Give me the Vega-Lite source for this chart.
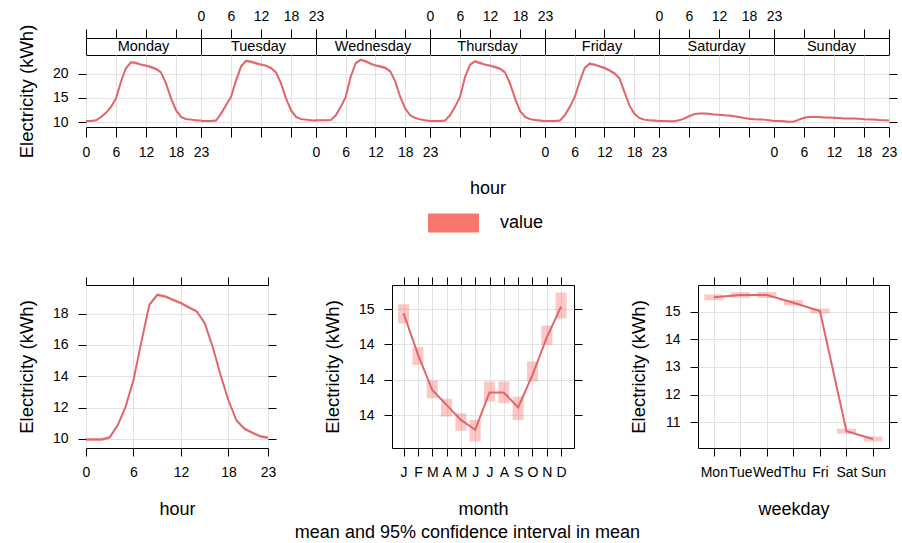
{
"$schema": "https://vega.github.io/schema/vega-lite/v6.json",
"background": "white",
"padding": {"left": 16, "top": 8, "right": 5, "bottom": 0},
"datasets": {
"week": [
{"day":"Monday","hour":0,"value":10.2,"lo":10.0,"hi":10.4},
{"day":"Monday","hour":1,"value":10.2,"lo":10.0,"hi":10.4},
{"day":"Monday","hour":2,"value":10.35,"lo":10.15,"hi":10.55},
{"day":"Monday","hour":3,"value":11.05,"lo":10.85,"hi":11.25},
{"day":"Monday","hour":4,"value":11.9,"lo":11.7,"hi":12.1},
{"day":"Monday","hour":5,"value":13.15,"lo":12.85,"hi":13.45},
{"day":"Monday","hour":6,"value":14.9,"lo":14.6,"hi":15.2},
{"day":"Monday","hour":7,"value":18.4,"lo":18.1,"hi":18.7},
{"day":"Monday","hour":8,"value":21.2,"lo":20.9,"hi":21.5},
{"day":"Monday","hour":9,"value":22.4,"lo":22.1,"hi":22.7},
{"day":"Monday","hour":10,"value":22.25,"lo":21.95,"hi":22.55},
{"day":"Monday","hour":11,"value":21.9,"lo":21.6,"hi":22.2},
{"day":"Monday","hour":12,"value":21.7,"lo":21.4,"hi":22.0},
{"day":"Monday","hour":13,"value":21.4,"lo":21.1,"hi":21.7},
{"day":"Monday","hour":14,"value":21.0,"lo":20.7,"hi":21.3},
{"day":"Monday","hour":15,"value":20.3,"lo":20.0,"hi":20.6},
{"day":"Monday","hour":16,"value":18.0,"lo":17.7,"hi":18.3},
{"day":"Monday","hour":17,"value":14.9,"lo":14.6,"hi":15.2},
{"day":"Monday","hour":18,"value":12.45,"lo":12.25,"hi":12.65},
{"day":"Monday","hour":19,"value":11.05,"lo":10.85,"hi":11.25},
{"day":"Monday","hour":20,"value":10.6,"lo":10.4,"hi":10.8},
{"day":"Monday","hour":21,"value":10.5,"lo":10.3,"hi":10.7},
{"day":"Monday","hour":22,"value":10.35,"lo":10.15,"hi":10.55},
{"day":"Monday","hour":23,"value":10.3,"lo":10.1,"hi":10.5},
{"day":"Tuesday","hour":0,"value":10.2,"lo":10.0,"hi":10.4},
{"day":"Tuesday","hour":1,"value":10.2,"lo":10.0,"hi":10.4},
{"day":"Tuesday","hour":2,"value":10.2,"lo":10.0,"hi":10.4},
{"day":"Tuesday","hour":3,"value":10.3,"lo":10.1,"hi":10.5},
{"day":"Tuesday","hour":4,"value":11.75,"lo":11.55,"hi":11.95},
{"day":"Tuesday","hour":5,"value":13.5,"lo":13.2,"hi":13.8},
{"day":"Tuesday","hour":6,"value":15.2,"lo":14.9,"hi":15.5},
{"day":"Tuesday","hour":7,"value":18.6,"lo":18.3,"hi":18.9},
{"day":"Tuesday","hour":8,"value":21.5,"lo":21.2,"hi":21.8},
{"day":"Tuesday","hour":9,"value":22.7,"lo":22.4,"hi":23.0},
{"day":"Tuesday","hour":10,"value":22.5,"lo":22.2,"hi":22.8},
{"day":"Tuesday","hour":11,"value":22.2,"lo":21.9,"hi":22.5},
{"day":"Tuesday","hour":12,"value":21.9,"lo":21.6,"hi":22.2},
{"day":"Tuesday","hour":13,"value":21.7,"lo":21.4,"hi":22.0},
{"day":"Tuesday","hour":14,"value":21.2,"lo":20.9,"hi":21.5},
{"day":"Tuesday","hour":15,"value":20.3,"lo":20.0,"hi":20.6},
{"day":"Tuesday","hour":16,"value":18.0,"lo":17.7,"hi":18.3},
{"day":"Tuesday","hour":17,"value":14.9,"lo":14.6,"hi":15.2},
{"day":"Tuesday","hour":18,"value":12.45,"lo":12.25,"hi":12.65},
{"day":"Tuesday","hour":19,"value":11.05,"lo":10.85,"hi":11.25},
{"day":"Tuesday","hour":20,"value":10.6,"lo":10.4,"hi":10.8},
{"day":"Tuesday","hour":21,"value":10.5,"lo":10.3,"hi":10.7},
{"day":"Tuesday","hour":22,"value":10.35,"lo":10.15,"hi":10.55},
{"day":"Tuesday","hour":23,"value":10.3,"lo":10.1,"hi":10.5},
{"day":"Wednesday","hour":0,"value":10.35,"lo":10.15,"hi":10.55},
{"day":"Wednesday","hour":1,"value":10.35,"lo":10.15,"hi":10.55},
{"day":"Wednesday","hour":2,"value":10.35,"lo":10.15,"hi":10.55},
{"day":"Wednesday","hour":3,"value":10.4,"lo":10.2,"hi":10.6},
{"day":"Wednesday","hour":4,"value":11.4,"lo":11.2,"hi":11.6},
{"day":"Wednesday","hour":5,"value":13.15,"lo":12.85,"hi":13.45},
{"day":"Wednesday","hour":6,"value":15.2,"lo":14.9,"hi":15.5},
{"day":"Wednesday","hour":7,"value":19.4,"lo":19.1,"hi":19.7},
{"day":"Wednesday","hour":8,"value":22.2,"lo":21.9,"hi":22.5},
{"day":"Wednesday","hour":9,"value":22.9,"lo":22.6,"hi":23.2},
{"day":"Wednesday","hour":10,"value":22.6,"lo":22.3,"hi":22.9},
{"day":"Wednesday","hour":11,"value":22.1,"lo":21.8,"hi":22.4},
{"day":"Wednesday","hour":12,"value":21.75,"lo":21.45,"hi":22.05},
{"day":"Wednesday","hour":13,"value":21.5,"lo":21.2,"hi":21.8},
{"day":"Wednesday","hour":14,"value":21.2,"lo":20.9,"hi":21.5},
{"day":"Wednesday","hour":15,"value":20.5,"lo":20.2,"hi":20.8},
{"day":"Wednesday","hour":16,"value":18.4,"lo":18.1,"hi":18.7},
{"day":"Wednesday","hour":17,"value":15.2,"lo":14.9,"hi":15.5},
{"day":"Wednesday","hour":18,"value":12.8,"lo":12.6,"hi":13.0},
{"day":"Wednesday","hour":19,"value":11.4,"lo":11.2,"hi":11.6},
{"day":"Wednesday","hour":20,"value":10.85,"lo":10.65,"hi":11.05},
{"day":"Wednesday","hour":21,"value":10.55,"lo":10.35,"hi":10.75},
{"day":"Wednesday","hour":22,"value":10.35,"lo":10.15,"hi":10.55},
{"day":"Wednesday","hour":23,"value":10.2,"lo":10.0,"hi":10.4},
{"day":"Thursday","hour":0,"value":10.2,"lo":10.0,"hi":10.4},
{"day":"Thursday","hour":1,"value":10.2,"lo":10.0,"hi":10.4},
{"day":"Thursday","hour":2,"value":10.2,"lo":10.0,"hi":10.4},
{"day":"Thursday","hour":3,"value":10.3,"lo":10.1,"hi":10.5},
{"day":"Thursday","hour":4,"value":11.4,"lo":11.2,"hi":11.6},
{"day":"Thursday","hour":5,"value":13.15,"lo":12.85,"hi":13.45},
{"day":"Thursday","hour":6,"value":15.2,"lo":14.9,"hi":15.5},
{"day":"Thursday","hour":7,"value":19.3,"lo":19.0,"hi":19.6},
{"day":"Thursday","hour":8,"value":21.9,"lo":21.6,"hi":22.2},
{"day":"Thursday","hour":9,"value":22.6,"lo":22.3,"hi":22.9},
{"day":"Thursday","hour":10,"value":22.25,"lo":21.95,"hi":22.55},
{"day":"Thursday","hour":11,"value":21.9,"lo":21.6,"hi":22.2},
{"day":"Thursday","hour":12,"value":21.7,"lo":21.4,"hi":22.0},
{"day":"Thursday","hour":13,"value":21.4,"lo":21.1,"hi":21.7},
{"day":"Thursday","hour":14,"value":21.05,"lo":20.75,"hi":21.35},
{"day":"Thursday","hour":15,"value":20.3,"lo":20.0,"hi":20.6},
{"day":"Thursday","hour":16,"value":18.0,"lo":17.7,"hi":18.3},
{"day":"Thursday","hour":17,"value":14.9,"lo":14.6,"hi":15.2},
{"day":"Thursday","hour":18,"value":12.3,"lo":12.1,"hi":12.5},
{"day":"Thursday","hour":19,"value":11.05,"lo":10.85,"hi":11.25},
{"day":"Thursday","hour":20,"value":10.6,"lo":10.4,"hi":10.8},
{"day":"Thursday","hour":21,"value":10.4,"lo":10.2,"hi":10.6},
{"day":"Thursday","hour":22,"value":10.3,"lo":10.1,"hi":10.5},
{"day":"Thursday","hour":23,"value":10.15,"lo":9.95,"hi":10.35},
{"day":"Friday","hour":0,"value":10.2,"lo":10.0,"hi":10.4},
{"day":"Friday","hour":1,"value":10.2,"lo":10.0,"hi":10.4},
{"day":"Friday","hour":2,"value":10.2,"lo":10.0,"hi":10.4},
{"day":"Friday","hour":3,"value":10.3,"lo":10.1,"hi":10.5},
{"day":"Friday","hour":4,"value":11.4,"lo":11.2,"hi":11.6},
{"day":"Friday","hour":5,"value":13.15,"lo":12.85,"hi":13.45},
{"day":"Friday","hour":6,"value":15.2,"lo":14.9,"hi":15.5},
{"day":"Friday","hour":7,"value":18.4,"lo":18.1,"hi":18.7},
{"day":"Friday","hour":8,"value":21.2,"lo":20.9,"hi":21.5},
{"day":"Friday","hour":9,"value":22.1,"lo":21.8,"hi":22.4},
{"day":"Friday","hour":10,"value":21.9,"lo":21.6,"hi":22.2},
{"day":"Friday","hour":11,"value":21.55,"lo":21.25,"hi":21.85},
{"day":"Friday","hour":12,"value":21.2,"lo":20.9,"hi":21.5},
{"day":"Friday","hour":13,"value":20.7,"lo":20.4,"hi":21.0},
{"day":"Friday","hour":14,"value":20.1,"lo":19.8,"hi":20.4},
{"day":"Friday","hour":15,"value":19.1,"lo":18.8,"hi":19.4},
{"day":"Friday","hour":16,"value":16.3,"lo":16.0,"hi":16.6},
{"day":"Friday","hour":17,"value":13.5,"lo":13.2,"hi":13.8},
{"day":"Friday","hour":18,"value":11.75,"lo":11.55,"hi":11.95},
{"day":"Friday","hour":19,"value":10.85,"lo":10.65,"hi":11.05},
{"day":"Friday","hour":20,"value":10.5,"lo":10.3,"hi":10.7},
{"day":"Friday","hour":21,"value":10.35,"lo":10.15,"hi":10.55},
{"day":"Friday","hour":22,"value":10.3,"lo":10.1,"hi":10.5},
{"day":"Friday","hour":23,"value":10.2,"lo":10.0,"hi":10.4},
{"day":"Saturday","hour":0,"value":10.2,"lo":10.05,"hi":10.35},
{"day":"Saturday","hour":1,"value":10.2,"lo":10.05,"hi":10.35},
{"day":"Saturday","hour":2,"value":10.15,"lo":10.0,"hi":10.3},
{"day":"Saturday","hour":3,"value":10.15,"lo":10.0,"hi":10.3},
{"day":"Saturday","hour":4,"value":10.35,"lo":10.2,"hi":10.5},
{"day":"Saturday","hour":5,"value":10.7,"lo":10.55,"hi":10.85},
{"day":"Saturday","hour":6,"value":11.2,"lo":11.05,"hi":11.35},
{"day":"Saturday","hour":7,"value":11.6,"lo":11.45,"hi":11.75},
{"day":"Saturday","hour":8,"value":11.75,"lo":11.6,"hi":11.9},
{"day":"Saturday","hour":9,"value":11.75,"lo":11.6,"hi":11.9},
{"day":"Saturday","hour":10,"value":11.7,"lo":11.55,"hi":11.85},
{"day":"Saturday","hour":11,"value":11.55,"lo":11.4,"hi":11.7},
{"day":"Saturday","hour":12,"value":11.5,"lo":11.35,"hi":11.65},
{"day":"Saturday","hour":13,"value":11.4,"lo":11.25,"hi":11.55},
{"day":"Saturday","hour":14,"value":11.35,"lo":11.2,"hi":11.5},
{"day":"Saturday","hour":15,"value":11.2,"lo":11.05,"hi":11.35},
{"day":"Saturday","hour":16,"value":11.05,"lo":10.9,"hi":11.2},
{"day":"Saturday","hour":17,"value":10.85,"lo":10.7,"hi":11.0},
{"day":"Saturday","hour":18,"value":10.7,"lo":10.55,"hi":10.85},
{"day":"Saturday","hour":19,"value":10.6,"lo":10.45,"hi":10.75},
{"day":"Saturday","hour":20,"value":10.55,"lo":10.4,"hi":10.7},
{"day":"Saturday","hour":21,"value":10.5,"lo":10.35,"hi":10.65},
{"day":"Saturday","hour":22,"value":10.35,"lo":10.2,"hi":10.5},
{"day":"Saturday","hour":23,"value":10.2,"lo":10.05,"hi":10.35},
{"day":"Sunday","hour":0,"value":10.2,"lo":10.05,"hi":10.35},
{"day":"Sunday","hour":1,"value":10.2,"lo":10.05,"hi":10.35},
{"day":"Sunday","hour":2,"value":10.15,"lo":10.0,"hi":10.3},
{"day":"Sunday","hour":3,"value":10.05,"lo":9.9,"hi":10.2},
{"day":"Sunday","hour":4,"value":10.1,"lo":9.95,"hi":10.25},
{"day":"Sunday","hour":5,"value":10.5,"lo":10.35,"hi":10.65},
{"day":"Sunday","hour":6,"value":10.9,"lo":10.75,"hi":11.05},
{"day":"Sunday","hour":7,"value":11.05,"lo":10.9,"hi":11.2},
{"day":"Sunday","hour":8,"value":11.05,"lo":10.9,"hi":11.2},
{"day":"Sunday","hour":9,"value":11.05,"lo":10.9,"hi":11.2},
{"day":"Sunday","hour":10,"value":10.95,"lo":10.8,"hi":11.1},
{"day":"Sunday","hour":11,"value":10.95,"lo":10.8,"hi":11.1},
{"day":"Sunday","hour":12,"value":10.9,"lo":10.75,"hi":11.05},
{"day":"Sunday","hour":13,"value":10.85,"lo":10.7,"hi":11.0},
{"day":"Sunday","hour":14,"value":10.75,"lo":10.6,"hi":10.9},
{"day":"Sunday","hour":15,"value":10.75,"lo":10.6,"hi":10.9},
{"day":"Sunday","hour":16,"value":10.75,"lo":10.6,"hi":10.9},
{"day":"Sunday","hour":17,"value":10.7,"lo":10.55,"hi":10.85},
{"day":"Sunday","hour":18,"value":10.6,"lo":10.45,"hi":10.75},
{"day":"Sunday","hour":19,"value":10.55,"lo":10.4,"hi":10.7},
{"day":"Sunday","hour":20,"value":10.5,"lo":10.35,"hi":10.65},
{"day":"Sunday","hour":21,"value":10.4,"lo":10.25,"hi":10.55},
{"day":"Sunday","hour":22,"value":10.35,"lo":10.2,"hi":10.5},
{"day":"Sunday","hour":23,"value":10.3,"lo":10.15,"hi":10.45}
],
"hourly": [
{"hour":0,"value":9.97,"lo":9.87,"hi":10.07},
{"hour":1,"value":9.96,"lo":9.86,"hi":10.06},
{"hour":2,"value":9.97,"lo":9.87,"hi":10.07},
{"hour":3,"value":10.1,"lo":10.0,"hi":10.2},
{"hour":4,"value":10.87,"lo":10.77,"hi":10.97},
{"hour":5,"value":12.05,"lo":11.95,"hi":12.15},
{"hour":6,"value":13.76,"lo":13.66,"hi":13.86},
{"hour":7,"value":16.2,"lo":16.1,"hi":16.3},
{"hour":8,"value":18.56,"lo":18.46,"hi":18.66},
{"hour":9,"value":19.2,"lo":19.1,"hi":19.3},
{"hour":10,"value":19.1,"lo":19.0,"hi":19.2},
{"hour":11,"value":18.88,"lo":18.78,"hi":18.98},
{"hour":12,"value":18.67,"lo":18.57,"hi":18.77},
{"hour":13,"value":18.4,"lo":18.3,"hi":18.5},
{"hour":14,"value":18.14,"lo":18.04,"hi":18.24},
{"hour":15,"value":17.39,"lo":17.29,"hi":17.49},
{"hour":16,"value":15.9,"lo":15.8,"hi":16.0},
{"hour":17,"value":14.08,"lo":13.98,"hi":14.18},
{"hour":18,"value":12.47,"lo":12.37,"hi":12.57},
{"hour":19,"value":11.19,"lo":11.09,"hi":11.29},
{"hour":20,"value":10.66,"lo":10.56,"hi":10.76},
{"hour":21,"value":10.4,"lo":10.3,"hi":10.5},
{"hour":22,"value":10.17,"lo":10.07,"hi":10.27},
{"hour":23,"value":10.08,"lo":9.98,"hi":10.18}
],
"monthly": [
{"month":1,"value":14.576,"lo":14.519,"hi":14.627},
{"month":2,"value":14.344,"lo":14.284,"hi":14.384},
{"month":3,"value":14.142,"lo":14.096,"hi":14.196},
{"month":4,"value":14.058,"lo":13.992,"hi":14.092},
{"month":5,"value":13.973,"lo":13.911,"hi":14.011},
{"month":6,"value":13.917,"lo":13.851,"hi":13.973},
{"month":7,"value":14.128,"lo":14.077,"hi":14.19},
{"month":8,"value":14.128,"lo":14.067,"hi":14.19},
{"month":9,"value":14.043,"lo":13.973,"hi":14.105},
{"month":10,"value":14.227,"lo":14.19,"hi":14.303},
{"month":11,"value":14.44,"lo":14.397,"hi":14.506},
{"month":12,"value":14.614,"lo":14.547,"hi":14.694}
],
"weekday": [
{"wd":1,"weekday":"Mon","value":15.515,"lo":15.41,"hi":15.62},
{"wd":2,"weekday":"Tue","value":15.6,"lo":15.5,"hi":15.7},
{"wd":3,"weekday":"Wed","value":15.6,"lo":15.49,"hi":15.71},
{"wd":4,"weekday":"Thu","value":15.32,"lo":15.22,"hi":15.42},
{"wd":5,"weekday":"Fri","value":15.02,"lo":14.93,"hi":15.11},
{"wd":6,"weekday":"Sat","value":10.68,"lo":10.59,"hi":10.77},
{"wd":7,"weekday":"Sun","value":10.4,"lo":10.31,"hi":10.49}
]
},
"title": {"text": "mean and 95% confidence interval in mean", "orient": "bottom", "anchor": "middle", "font": "Liberation Sans", "fontSize": 18, "fontWeight": "normal", "color": "#000", "offset": 5, "dx": 10},
"spacing": 78,
"bounds": "full",
"vconcat": [
{
"columns": 7,
"spacing": 0,
"bounds": "flush",
"align": "each",
"concat": [
 {"width": 115, "height": 17, "data": {"values": [{"day": "Monday"}]},
  "mark": {"type": "text", "font": "Liberation Sans", "fontSize": 14.5, "color": "#000"},
  "encoding": {"x": {"datum": 11.5, "type": "quantitative", "scale": {"domain": [0, 23], "nice": false, "zero": false}, "axis": {"orient": "top", "values": [0, 6, 12, 18, 23], "labels": false, "grid": false, "title": null, "tickSize": 9, "labelPadding": 6}}, "text": {"field": "day"}}},
 {"width": 115, "height": 17, "data": {"values": [{"day": "Tuesday"}]},
  "mark": {"type": "text", "font": "Liberation Sans", "fontSize": 14.5, "color": "#000"},
  "encoding": {"x": {"datum": 11.5, "type": "quantitative", "scale": {"domain": [0, 23], "nice": false, "zero": false}, "axis": {"orient": "top", "values": [0, 6, 12, 18, 23], "labels": true, "grid": false, "title": null, "tickSize": 9, "labelPadding": 6}}, "text": {"field": "day"}}},
 {"width": 114, "height": 17, "data": {"values": [{"day": "Wednesday"}]},
  "mark": {"type": "text", "font": "Liberation Sans", "fontSize": 14.5, "color": "#000"},
  "encoding": {"x": {"datum": 11.5, "type": "quantitative", "scale": {"domain": [0, 23], "nice": false, "zero": false}, "axis": {"orient": "top", "values": [0, 6, 12, 18, 23], "labels": false, "grid": false, "title": null, "tickSize": 9, "labelPadding": 6}}, "text": {"field": "day"}}},
 {"width": 115, "height": 17, "data": {"values": [{"day": "Thursday"}]},
  "mark": {"type": "text", "font": "Liberation Sans", "fontSize": 14.5, "color": "#000"},
  "encoding": {"x": {"datum": 11.5, "type": "quantitative", "scale": {"domain": [0, 23], "nice": false, "zero": false}, "axis": {"orient": "top", "values": [0, 6, 12, 18, 23], "labels": true, "grid": false, "title": null, "tickSize": 9, "labelPadding": 6}}, "text": {"field": "day"}}},
 {"width": 114, "height": 17, "data": {"values": [{"day": "Friday"}]},
  "mark": {"type": "text", "font": "Liberation Sans", "fontSize": 14.5, "color": "#000"},
  "encoding": {"x": {"datum": 11.5, "type": "quantitative", "scale": {"domain": [0, 23], "nice": false, "zero": false}, "axis": {"orient": "top", "values": [0, 6, 12, 18, 23], "labels": false, "grid": false, "title": null, "tickSize": 9, "labelPadding": 6}}, "text": {"field": "day"}}},
 {"width": 115, "height": 17, "data": {"values": [{"day": "Saturday"}]},
  "mark": {"type": "text", "font": "Liberation Sans", "fontSize": 14.5, "color": "#000"},
  "encoding": {"x": {"datum": 11.5, "type": "quantitative", "scale": {"domain": [0, 23], "nice": false, "zero": false}, "axis": {"orient": "top", "values": [0, 6, 12, 18, 23], "labels": true, "grid": false, "title": null, "tickSize": 9, "labelPadding": 6}}, "text": {"field": "day"}}},
 {"width": 115, "height": 17, "data": {"values": [{"day": "Sunday"}]},
  "mark": {"type": "text", "font": "Liberation Sans", "fontSize": 14.5, "color": "#000"},
  "encoding": {"x": {"datum": 11.5, "type": "quantitative", "scale": {"domain": [0, 23], "nice": false, "zero": false}, "axis": {"orient": "top", "values": [0, 6, 12, 18, 23], "labels": false, "grid": false, "title": null, "tickSize": 9, "labelPadding": 6}}, "text": {"field": "day"}}},
 {"width": 115, "height": 72, "data": {"name": "week"}, "transform": [{"filter": "datum.day === 'Monday'"}],
  "encoding": {"x": {"field": "hour", "type": "quantitative", "scale": {"domain": [0, 23], "nice": false, "zero": false}, "axis": {"values": [0, 6, 12, 18, 23], "labels": true, "grid": true, "title": null, "tickSize": 10, "labelPadding": 8}}},
  "layer": [
   {"mark": {"type": "area", "fillOpacity": 0.4}, "encoding": {"y": {"field": "lo", "type": "quantitative", "scale": {"domain": [8.97, 23.9], "nice": false, "zero": false}, "axis": {"orient": "left", "values": [10, 15, 20], "grid": true, "title": "Electricity (kWh)"}}, "y2": {"field": "hi"}, "color": {"datum": "value", "scale": {"range": ["#F8766D"]}, "legend": {"title": null}}}},
   {"mark": {"type": "line", "color": "#E0666A", "strokeWidth": 2}, "encoding": {"y": {"field": "value", "type": "quantitative", "scale": {"domain": [8.97, 23.9], "nice": false, "zero": false}, "axis": {"orient": "left", "values": [10, 15, 20], "grid": true, "title": "Electricity (kWh)"}}}}
  ]},
 {"width": 115, "height": 72, "data": {"name": "week"}, "transform": [{"filter": "datum.day === 'Tuesday'"}],
  "encoding": {"x": {"field": "hour", "type": "quantitative", "scale": {"domain": [0, 23], "nice": false, "zero": false}, "axis": {"values": [0, 6, 12, 18, 23], "labels": false, "grid": true, "title": null, "tickSize": 10, "labelPadding": 8}}},
  "layer": [
   {"mark": {"type": "area", "fillOpacity": 0.4}, "encoding": {"y": {"field": "lo", "type": "quantitative", "scale": {"domain": [8.97, 23.9], "nice": false, "zero": false}, "axis": {"values": [10, 15, 20], "labels": false, "ticks": false, "grid": true, "title": null}}, "y2": {"field": "hi"}, "color": {"datum": "value", "scale": {"range": ["#F8766D"]}, "legend": {"title": null}}}},
   {"mark": {"type": "line", "color": "#E0666A", "strokeWidth": 2}, "encoding": {"y": {"field": "value", "type": "quantitative", "scale": {"domain": [8.97, 23.9], "nice": false, "zero": false}, "axis": {"values": [10, 15, 20], "labels": false, "ticks": false, "grid": true, "title": null}}}}
  ]},
 {"width": 114, "height": 72, "data": {"name": "week"}, "transform": [{"filter": "datum.day === 'Wednesday'"}],
  "encoding": {"x": {"field": "hour", "type": "quantitative", "scale": {"domain": [0, 23], "nice": false, "zero": false}, "axis": {"values": [0, 6, 12, 18, 23], "labels": true, "grid": true, "title": null, "tickSize": 10, "labelPadding": 8}}},
  "layer": [
   {"mark": {"type": "area", "fillOpacity": 0.4}, "encoding": {"y": {"field": "lo", "type": "quantitative", "scale": {"domain": [8.97, 23.9], "nice": false, "zero": false}, "axis": {"values": [10, 15, 20], "labels": false, "ticks": false, "grid": true, "title": null}}, "y2": {"field": "hi"}, "color": {"datum": "value", "scale": {"range": ["#F8766D"]}, "legend": {"title": null}}}},
   {"mark": {"type": "line", "color": "#E0666A", "strokeWidth": 2}, "encoding": {"y": {"field": "value", "type": "quantitative", "scale": {"domain": [8.97, 23.9], "nice": false, "zero": false}, "axis": {"values": [10, 15, 20], "labels": false, "ticks": false, "grid": true, "title": null}}}}
  ]},
 {"width": 115, "height": 72, "data": {"name": "week"}, "transform": [{"filter": "datum.day === 'Thursday'"}],
  "encoding": {"x": {"field": "hour", "type": "quantitative", "scale": {"domain": [0, 23], "nice": false, "zero": false}, "axis": {"values": [0, 6, 12, 18, 23], "labels": false, "grid": true, "title": "hour", "titlePadding": 42, "tickSize": 10, "labelPadding": 8}}},
  "layer": [
   {"mark": {"type": "area", "fillOpacity": 0.4}, "encoding": {"y": {"field": "lo", "type": "quantitative", "scale": {"domain": [8.97, 23.9], "nice": false, "zero": false}, "axis": {"values": [10, 15, 20], "labels": false, "ticks": false, "grid": true, "title": null}}, "y2": {"field": "hi"}, "color": {"datum": "value", "scale": {"range": ["#F8766D"]}, "legend": {"title": null}}}},
   {"mark": {"type": "line", "color": "#E0666A", "strokeWidth": 2}, "encoding": {"y": {"field": "value", "type": "quantitative", "scale": {"domain": [8.97, 23.9], "nice": false, "zero": false}, "axis": {"values": [10, 15, 20], "labels": false, "ticks": false, "grid": true, "title": null}}}}
  ]},
 {"width": 114, "height": 72, "data": {"name": "week"}, "transform": [{"filter": "datum.day === 'Friday'"}],
  "encoding": {"x": {"field": "hour", "type": "quantitative", "scale": {"domain": [0, 23], "nice": false, "zero": false}, "axis": {"values": [0, 6, 12, 18, 23], "labels": true, "grid": true, "title": null, "tickSize": 10, "labelPadding": 8}}},
  "layer": [
   {"mark": {"type": "area", "fillOpacity": 0.4}, "encoding": {"y": {"field": "lo", "type": "quantitative", "scale": {"domain": [8.97, 23.9], "nice": false, "zero": false}, "axis": {"values": [10, 15, 20], "labels": false, "ticks": false, "grid": true, "title": null}}, "y2": {"field": "hi"}, "color": {"datum": "value", "scale": {"range": ["#F8766D"]}, "legend": {"title": null}}}},
   {"mark": {"type": "line", "color": "#E0666A", "strokeWidth": 2}, "encoding": {"y": {"field": "value", "type": "quantitative", "scale": {"domain": [8.97, 23.9], "nice": false, "zero": false}, "axis": {"values": [10, 15, 20], "labels": false, "ticks": false, "grid": true, "title": null}}}}
  ]},
 {"width": 115, "height": 72, "data": {"name": "week"}, "transform": [{"filter": "datum.day === 'Saturday'"}],
  "encoding": {"x": {"field": "hour", "type": "quantitative", "scale": {"domain": [0, 23], "nice": false, "zero": false}, "axis": {"values": [0, 6, 12, 18, 23], "labels": false, "grid": true, "title": null, "tickSize": 10, "labelPadding": 8}}},
  "layer": [
   {"mark": {"type": "area", "fillOpacity": 0.4}, "encoding": {"y": {"field": "lo", "type": "quantitative", "scale": {"domain": [8.97, 23.9], "nice": false, "zero": false}, "axis": {"values": [10, 15, 20], "labels": false, "ticks": false, "grid": true, "title": null}}, "y2": {"field": "hi"}, "color": {"datum": "value", "scale": {"range": ["#F8766D"]}, "legend": {"title": null}}}},
   {"mark": {"type": "line", "color": "#E0666A", "strokeWidth": 2}, "encoding": {"y": {"field": "value", "type": "quantitative", "scale": {"domain": [8.97, 23.9], "nice": false, "zero": false}, "axis": {"values": [10, 15, 20], "labels": false, "ticks": false, "grid": true, "title": null}}}}
  ]},
 {"width": 115, "height": 72, "data": {"name": "week"}, "transform": [{"filter": "datum.day === 'Sunday'"}],
  "encoding": {"x": {"field": "hour", "type": "quantitative", "scale": {"domain": [0, 23], "nice": false, "zero": false}, "axis": {"values": [0, 6, 12, 18, 23], "labels": true, "grid": true, "title": null, "tickSize": 10, "labelPadding": 8}}},
  "layer": [
   {"mark": {"type": "area", "fillOpacity": 0.4}, "encoding": {"y": {"field": "lo", "type": "quantitative", "scale": {"domain": [8.97, 23.9], "nice": false, "zero": false}, "axis": {"orient": "right", "values": [10, 15, 20], "labels": false, "grid": true, "title": null}}, "y2": {"field": "hi"}, "color": {"datum": "value", "scale": {"range": ["#F8766D"]}, "legend": {"title": null}}}},
   {"mark": {"type": "line", "color": "#E0666A", "strokeWidth": 2}, "encoding": {"y": {"field": "value", "type": "quantitative", "scale": {"domain": [8.97, 23.9], "nice": false, "zero": false}, "axis": {"orient": "right", "values": [10, 15, 20], "labels": false, "grid": true, "title": null}}}}
  ]}
]
},
{
"spacing": 124,
"bounds": "flush",
"hconcat": [
{"width": 182, "height": 163, "data": {"name": "hourly"},
 "layer": [
  {"mark": {"type": "area", "fillOpacity": 0.4},
   "encoding": {
    "x": {"field": "hour", "type": "quantitative", "scale": {"domain": [0, 23], "nice": false, "zero": false}, "axis": {"orient": "top", "values": [0, 6, 12, 18, 23], "labels": false, "grid": false, "title": null}},
    "y": {"field": "lo", "type": "quantitative", "scale": {"domain": [9.42, 19.83], "nice": false, "zero": false}, "axis": {"orient": "right", "values": [10, 12, 14, 16, 18], "labels": false, "grid": false, "title": null}},
    "y2": {"field": "hi"},
    "color": {"datum": "value", "scale": {"range": ["#F8766D"]}, "legend": {"title": null}}}},
  {"mark": {"type": "line", "color": "#E0666A", "strokeWidth": 2},
   "encoding": {
    "x": {"field": "hour", "type": "quantitative", "scale": {"domain": [0, 23], "nice": false, "zero": false}, "axis": {"orient": "bottom", "values": [0, 6, 12, 18, 23], "grid": true, "title": "hour"}},
    "y": {"field": "value", "type": "quantitative", "scale": {"domain": [9.42, 19.83], "nice": false, "zero": false}, "axis": {"orient": "left", "values": [10, 12, 14, 16, 18], "grid": true, "title": "Electricity (kWh)"}}}}
 ],
 "resolve": {"axis": {"x": "independent", "y": "independent"}}},
{"width": 182, "height": 163, "data": {"name": "monthly"},
 "layer": [
  {"mark": {"type": "bar", "fillOpacity": 0.4, "size": 11},
   "encoding": {
    "x": {"field": "month", "type": "quantitative", "scale": {"domain": [0.54, 12.55], "nice": false, "zero": false}, "axis": {"orient": "top", "values": [1,2,3,4,5,6,7,8,9,10,11,12], "labels": false, "grid": false, "title": null}},
    "y": {"field": "lo", "type": "quantitative", "scale": {"domain": [13.814, 14.736], "nice": false, "zero": false}, "axis": {"orient": "right", "values": [14.0, 14.2, 14.4, 14.6], "labels": false, "grid": false, "title": null}},
    "y2": {"field": "hi"},
    "color": {"datum": "value", "scale": {"range": ["#F8766D"]}, "legend": {"title": null}}}},
  {"mark": {"type": "line", "color": "#E0666A", "strokeWidth": 2},
   "encoding": {
    "x": {"field": "month", "type": "quantitative", "scale": {"domain": [0.54, 12.55], "nice": false, "zero": false}, "axis": {"orient": "bottom", "values": [1,2,3,4,5,6,7,8,9,10,11,12], "labelExpr": "substring('JFMAMJJASOND', datum.value - 1, datum.value)", "grid": true, "title": "month"}},
    "y": {"field": "value", "type": "quantitative", "scale": {"domain": [13.814, 14.736], "nice": false, "zero": false}, "axis": {"orient": "left", "values": [14.0, 14.2, 14.4, 14.6], "format": ".0f", "grid": true, "title": "Electricity (kWh)"}}}}
 ],
 "resolve": {"axis": {"x": "independent", "y": "independent"}}},
{"width": 191, "height": 163, "data": {"name": "weekday"},
 "layer": [
  {"mark": {"type": "bar", "fillOpacity": 0.4, "size": 19},
   "encoding": {
    "x": {"field": "wd", "type": "quantitative", "scale": {"domain": [0.593, 7.414], "nice": false, "zero": false}, "axis": {"orient": "top", "values": [1,2,3,4,5,6,7], "labels": false, "grid": false, "title": null}},
    "y": {"field": "lo", "type": "quantitative", "scale": {"domain": [10.074, 15.96], "nice": false, "zero": false}, "axis": {"orient": "right", "values": [11, 12, 13, 14, 15], "labels": false, "grid": false, "title": null}},
    "y2": {"field": "hi"},
    "color": {"datum": "value", "scale": {"range": ["#F8766D"]}, "legend": {"title": null}}}},
  {"mark": {"type": "line", "color": "#E0666A", "strokeWidth": 2},
   "encoding": {
    "x": {"field": "wd", "type": "quantitative", "scale": {"domain": [0.593, 7.414], "nice": false, "zero": false}, "axis": {"orient": "bottom", "values": [1,2,3,4,5,6,7], "labelExpr": "['Mon','Tue','Wed','Thu','Fri','Sat','Sun'][datum.value - 1]", "grid": true, "title": "weekday"}},
    "y": {"field": "value", "type": "quantitative", "scale": {"domain": [10.074, 15.96], "nice": false, "zero": false}, "axis": {"orient": "left", "values": [11, 12, 13, 14, 15], "grid": true, "title": "Electricity (kWh)"}}}}
 ],
 "resolve": {"axis": {"x": "independent", "y": "independent"}}}
]
}
],
"config": {
 "font": "Liberation Sans",
 "view": {"stroke": "#000", "strokeWidth": 1},
 "axis": {"labelFont": "Liberation Sans", "labelFontSize": 14, "labelColor": "#000", "tickColor": "#000", "tickSize": 8, "domain": false, "gridColor": "#e2e2e2", "labelFlush": false, "labelOverlap": false, "labelPadding": 9, "titleColor": "#000", "titleFontWeight": "normal"},
 "axisX": {"titleFont": "Liberation Sans", "titleFontSize": 18, "titlePadding": 21},
 "axisY": {"titleFont": "Liberation Sans", "titleFontSize": 18.5, "titlePadding": 16, "labelPadding": 10},
 "legend": {"orient": "none", "legendX": 342, "legendY": 159.5, "symbolType": "M-1,-0.37H1V0.37H-1Z", "symbolSize": 2601, "symbolOpacity": 1, "symbolStrokeWidth": 0, "labelFont": "Liberation Sans", "labelFontSize": 18, "labelColor": "#000", "labelOffset": 21, "padding": 0}
}
}
